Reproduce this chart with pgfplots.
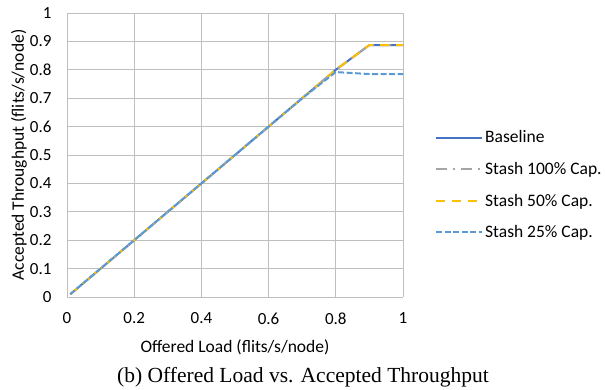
\documentclass[border=0pt]{standalone}
\usepackage{pgfplots}
\pgfplotsset{compat=1.18}
\usepackage{fontspec}
\setmainfont{Carlito}
\newfontfamily\capfont{Liberation Serif}
\definecolor{cblue}{HTML}{4472C4}
\definecolor{cgray}{HTML}{A5A5A5}
\definecolor{cgold}{HTML}{FFC000}
\definecolor{clblue}{HTML}{5B9BD5}
\definecolor{grid}{HTML}{D9D9D9}
\begin{document}
\begin{tikzpicture}
\path[use as bounding box] (-67pt,-93pt) rectangle (538pt,297pt);
\begin{axis}[
  at={(0,0)}, anchor=south west,
  scale only axis, width=336pt, height=284pt,
  xmin=0, xmax=1, ymin=0, ymax=1,
  xtick={0,0.2,0.4,0.6,0.8,1}, ytick={0,0.1,...,1},
  xticklabels={0,0.2,0.4,0.6,0.8,1},
  yticklabels={0,0.1,0.2,0.3,0.4,0.5,0.6,0.7,0.8,0.9,1},
  grid=major, major grid style={grid, line width=0.8pt},
  axis line style={draw=none}, tick style={draw=none},
  ticklabel style={font=\fontsize{17}{19}\selectfont},
  xticklabel style={yshift=-12pt},
  yticklabel style={xshift=-12pt},
  /pgf/number format/assume math mode=true,
  xlabel={Offered Load (flits/s/node)},
  ylabel={Accepted Throughput (flits/s/node)},
  label style={font=\fontsize{17.5}{19}\selectfont},
  xlabel style={at={(0.5,0)}, anchor=center, yshift=-50pt},
  every axis y label/.append style={at={(-48pt,142pt)}, anchor=center},
  clip=false,
  legend style={at={(1,0.5)}, anchor=west, xshift=32pt, yshift=-30pt, draw=none, fill=none, inner sep=0pt,
    font=\fontsize{17.5}{19}\selectfont, row sep=14pt, cells={anchor=west}},
  legend image code/.code={\draw[#1] (0pt,0pt) -- (46pt,0pt);},
]
\addplot[cblue, line width=2pt] coordinates {(0.01,0.01)(0.1,0.1)(0.2,0.2)(0.3,0.3)(0.4,0.4)(0.5,0.5)(0.6,0.6)(0.7,0.7)(0.8,0.8)(0.9,0.887)(1.0,0.887)};
\addlegendentry{Baseline}
\addplot[cgray, line width=2pt, dash pattern=on 11pt off 6pt on 2pt off 6pt] coordinates {(0.01,0.01)(0.1,0.1)(0.2,0.2)(0.3,0.3)(0.4,0.4)(0.5,0.5)(0.6,0.6)(0.7,0.7)(0.8,0.8)(0.9,0.887)(1.0,0.887)};
\addlegendentry{Stash 100\% Cap.}
\addplot[cgold, line width=2pt, dash pattern=on 9pt off 7pt] coordinates {(0.01,0.01)(0.1,0.1)(0.2,0.2)(0.3,0.3)(0.4,0.4)(0.5,0.5)(0.6,0.6)(0.7,0.7)(0.8,0.8)(0.9,0.887)(1.0,0.887)};
\addlegendentry{Stash 50\% Cap.}
\addplot[clblue, line width=2pt, dash pattern=on 6pt off 2.5pt] coordinates {(0.01,0.01)(0.1,0.1)(0.2,0.2)(0.3,0.3)(0.4,0.4)(0.5,0.5)(0.6,0.6)(0.7,0.7)(0.8,0.792)(0.9,0.785)(1.0,0.785)};
\addlegendentry{Stash 25\% Cap.}
\end{axis}
\node[font=\capfont\fontsize{21.5}{24}\selectfont] at (236pt,-80pt) {(b) Offered Load vs. Accepted Throughput};
\end{tikzpicture}
\end{document}
